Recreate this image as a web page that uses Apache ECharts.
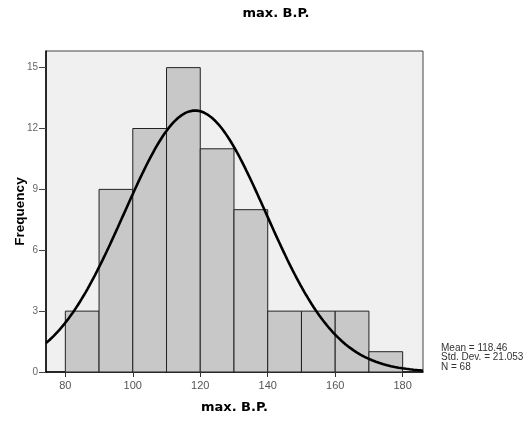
<!DOCTYPE html>
<html>
<head>
<meta charset="utf-8">
<script src="https://cdn.jsdelivr.net/npm/echarts@6/dist/echarts.min.js"></script>
<style>
  html, body { margin: 0; padding: 0; background: #fff; }
  #chart { width: 530px; height: 421px; }
</style>
</head>
<body>
<div id="chart"></div>
<script>
// Histogram of max. B.P. with fitted normal curve
const binStarts = [80, 90, 100, 110, 120, 130, 140, 150, 160, 170];
const binWidth = 10;
const frequencies = [3, 9, 12, 15, 11, 8, 3, 3, 3, 1];
const xTicks = [80, 100, 120, 140, 160, 180];
const yTicks = [0, 3, 6, 9, 12, 15];
const meanValue = 118.46;
const stdDev = 21.053;
const sampleN = 68;
const xMin = 74.27, xMax = 186.03;
const yMax = 15.82;

// Normal curve scaled to frequency per bin, from the stated mean/SD/N
const curve = [];
const steps = 200;
for (let i = 0; i <= steps; i++) {
  const x = xMin + (xMax - xMin) * i / steps;
  const z = (x - meanValue) / stdDev;
  const y = sampleN * binWidth / (stdDev * Math.sqrt(2 * Math.PI)) * Math.exp(-0.5 * z * z);
  curve.push([x, y]);
}

const bars = binStarts.map((s, i) => [s, s + binWidth, frequencies[i]]);

const font = 'Liberation Sans, Arial, sans-serif';
const titleFont = 'DejaVu Sans, sans-serif';
const chart = echarts.init(document.getElementById('chart'), null, { renderer: 'canvas' });
chart.setOption({
  animation: false,
  backgroundColor: '#ffffff',
  grid: {
    left: 46, right: 107, top: 51, bottom: 49,
    outerBoundsMode: 'none', containLabel: false,
    show: true, backgroundColor: '#f0f0f0', borderColor: '#444', borderWidth: 1
  },
  xAxis: {
    type: 'value', min: xMin, max: xMax,
    name: 'max. B.P.', nameLocation: 'middle', nameGap: 29, nameMoveOverlap: false,
    nameTextStyle: { fontFamily: titleFont, fontSize: 13, fontWeight: 'bold', color: '#000' },
    axisLine: { show: true, lineStyle: { color: '#000', width: 1.5 } },
    axisTick: { show: true, length: 5, customValues: xTicks, lineStyle: { color: '#333' } },
    axisLabel: { customValues: xTicks, fontFamily: font, fontSize: 11, color: '#555', margin: 8 },
    splitLine: { show: false }
  },
  yAxis: {
    type: 'value', min: 0, max: yMax,
    name: 'Frequency', nameLocation: 'middle', nameGap: 19, nameRotate: 90, nameMoveOverlap: false,
    nameTextStyle: { fontFamily: font, fontSize: 13.5, fontWeight: 'bold', color: '#000' },
    axisLine: { show: true, lineStyle: { color: '#000', width: 1.5 } },
    axisTick: { show: true, length: 7, customValues: yTicks, lineStyle: { color: '#444' } },
    axisLabel: { customValues: yTicks, fontFamily: font, fontSize: 10, color: '#666', margin: 8 },
    splitLine: { show: false }
  },
  graphic: [{
    type: 'text', x: 276, y: 14,
    style: {
      text: 'max. B.P.', align: 'center', verticalAlign: 'middle',
      fontFamily: titleFont, fontSize: 13, fontWeight: 'bold', fill: '#000'
    }
  }, {
    type: 'text', x: 441, y: 343,
    style: {
      text: 'Mean = ' + meanValue + '\nStd. Dev. = ' + stdDev + '\nN = ' + sampleN,
      fontFamily: font, fontSize: 10, lineHeight: 9.5, fill: '#333'
    }
  }],
  series: [{
    type: 'custom',
    data: bars,
    clip: true,
    renderItem: function (params, api) {
      const p0 = api.coord([api.value(0), 0]);
      const p1 = api.coord([api.value(1), api.value(2)]);
      return {
        type: 'rect',
        shape: { x: p0[0], y: p1[1], width: p1[0] - p0[0], height: p0[1] - p1[1] },
        style: { fill: '#c8c8c8', stroke: '#222', lineWidth: 1 }
      };
    },
    encode: { x: [0, 1], y: 2 },
    z: 2
  }, {
    type: 'line',
    data: curve,
    showSymbol: false,
    smooth: false,
    clip: true,
    lineStyle: { color: '#000', width: 2.6 },
    z: 3
  }]
});
</script>
</body>
</html>
